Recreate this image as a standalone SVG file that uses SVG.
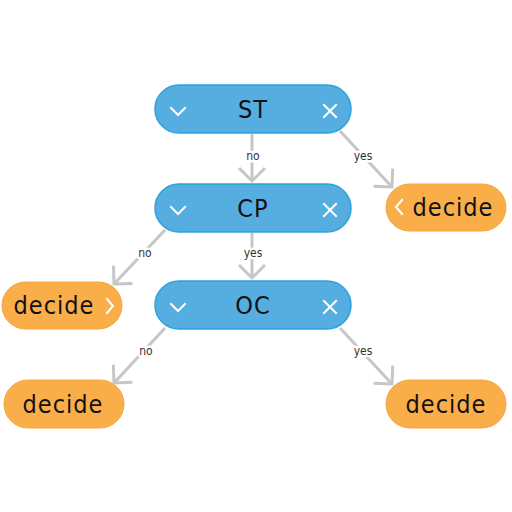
<svg xmlns="http://www.w3.org/2000/svg" width="512" height="512" viewBox="0 0 512 512">
<style>
.q rect{fill:#56ADE0;stroke:#2EA2DC;stroke-width:1.5}
.d rect{fill:#FAAE4A;stroke:#F7A53C;stroke-width:1}
.t{font-family:"DejaVu Sans Condensed","DejaVu Sans",sans-serif;font-size:25px;fill:#111;text-anchor:middle;letter-spacing:1px}
.ic{fill:none;stroke:#fff;stroke-width:2;stroke-linecap:square}
.e{fill:none;stroke:#C6C6C6;stroke-width:3}
.lb{font-family:"DejaVu Sans Condensed","DejaVu Sans",sans-serif;font-size:12px;fill:#333;text-anchor:middle;stroke:#fff;stroke-width:5;paint-order:stroke;stroke-linejoin:round}
</style>
<defs>
<marker id="ah" markerUnits="userSpaceOnUse" markerWidth="40" markerHeight="40" refX="0" refY="0" viewBox="-20 -20 40 40" orient="auto" overflow="visible">
<path d="M-13,-13 L0,0 L-13,13" fill="none" stroke="#C6C6C6" stroke-width="3"/>
</marker>
</defs>
<g id="connectors">
<line class="e" x1="252" y1="134" x2="252" y2="181" marker-end="url(#ah)"/>
<line class="e" x1="340" y1="131" x2="392" y2="187" marker-end="url(#ah)"/>
<line class="e" x1="165" y1="230" x2="114" y2="284" marker-end="url(#ah)"/>
<line class="e" x1="252" y1="233" x2="252" y2="278" marker-end="url(#ah)"/>
<line class="e" x1="165" y1="328" x2="114" y2="383" marker-end="url(#ah)"/>
<line class="e" x1="340" y1="328" x2="392" y2="384" marker-end="url(#ah)"/>
<text class="lb" x="253" y="160">no</text>
<text class="lb" x="363" y="160">yes</text>
<text class="lb" x="145" y="257">no</text>
<text class="lb" x="253" y="257">yes</text>
<text class="lb" x="146" y="355">no</text>
<text class="lb" x="363" y="355">yes</text>
</g>
<g id="ST" class="q">
<rect x="155" y="85" width="196" height="48" rx="24"/>
<text class="t" x="253" y="118">ST</text>
<path class="ic" d="M171,108 L178,115 L185,108"/>
<path class="ic" d="M324,105 L336,117 M336,105 L324,117"/>
</g>
<g id="CP" class="q">
<rect x="155" y="184" width="196" height="48" rx="24"/>
<text class="t" x="253" y="217">CP</text>
<path class="ic" d="M171,207 L178,214 L185,207"/>
<path class="ic" d="M324,204 L336,216 M336,204 L324,216"/>
</g>
<g id="OC" class="q">
<rect x="155" y="281" width="196" height="48" rx="24"/>
<text class="t" x="253" y="314">OC</text>
<path class="ic" d="M171,304 L178,311 L185,304"/>
<path class="ic" d="M324,301 L336,313 M336,301 L324,313"/>
</g>
<g id="decide1" class="d">
<rect x="386" y="184" width="120" height="47" rx="23.5"/>
<text class="t" x="453" y="216">decide</text>
<path class="ic" d="M402,200 L396,207 L402,214"/>
</g>
<g id="decide2" class="d">
<rect x="2" y="282" width="120" height="47" rx="23.5"/>
<text class="t" x="54" y="314">decide</text>
<path class="ic" d="M107,299 L113,306 L107,313"/>
</g>
<g id="decide3" class="d">
<rect x="4" y="380" width="120" height="48" rx="24"/>
<text class="t" x="63" y="413">decide</text>
</g>
<g id="decide4" class="d">
<rect x="386" y="380" width="120" height="48" rx="24"/>
<text class="t" x="446" y="413">decide</text>
</g>
</svg>
